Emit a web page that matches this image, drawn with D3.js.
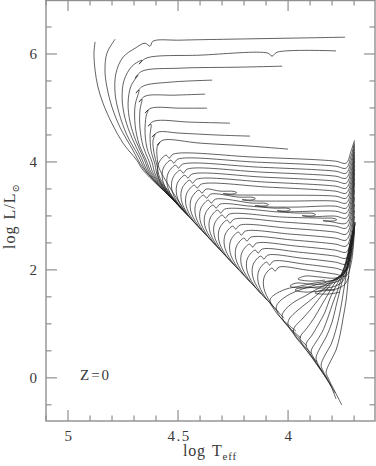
<!DOCTYPE html>
<html><head><meta charset="utf-8">
<script src="https://cdn.jsdelivr.net/npm/d3@7"></script>
<style>html,body{margin:0;padding:0;background:#fff;}svg{display:block;}</style>
</head><body>
<script>
// ---- data: evolutionary tracks, each point = [log Teff, log L/Lsun] ----
const xMajorTicks = [5, 4.5, 4];
const xMajorLabels = ["5", "4.5", "4"];
const yMajorTicks = [0, 2, 4, 6];
const yMajorLabels = ["0", "2", "4", "6"];
const xDomain = [5.1, 3.605];
const yDomain = [-0.8, 7.0];
const panelLabel = "Z=0";

const massiveTracks = [
 [[4.539,3.366],[4.659,3.848],[4.688,4.033],[4.750,4.348],[4.801,4.718],[4.841,5.089],[4.864,5.390],[4.877,5.700],[4.882,6.015],[4.877,6.224]],
 [[4.530,3.329],[4.659,3.885],[4.705,4.218],[4.764,4.644],[4.800,5.015],[4.823,5.385],[4.832,5.700],[4.823,6.015],[4.786,6.274]],
 [[4.521,3.292],[4.645,3.830],[4.682,4.126],[4.732,4.496],[4.768,4.904],[4.786,5.274],[4.782,5.644],[4.750,5.940],[4.695,6.107],[4.650,6.200],[4.627,6.144],[4.614,6.237],[4.491,6.256],[4.264,6.274],[3.991,6.293],[3.741,6.311]],
 [[4.513,3.255],[4.636,3.811],[4.668,4.089],[4.709,4.441],[4.741,4.811],[4.754,5.181],[4.745,5.515],[4.709,5.774],[4.664,5.885],[4.677,5.811],[4.645,5.922],[4.400,5.978],[4.091,6.015],[4.073,5.959],[4.050,6.033],[3.782,6.057]],
 [[4.504,3.218],[4.627,3.792],[4.654,4.052],[4.691,4.385],[4.718,4.737],[4.727,5.089],[4.714,5.404],[4.682,5.607],[4.695,5.552],[4.664,5.681],[4.491,5.737],[4.218,5.756],[4.027,5.774]],
 [[4.496,3.181],[4.618,3.774],[4.645,4.033],[4.677,4.330],[4.695,4.681],[4.695,5.052],[4.677,5.330],[4.691,5.274],[4.659,5.404],[4.536,5.478],[4.345,5.515]],
 [[4.487,3.144],[4.609,3.755],[4.632,4.015],[4.659,4.293],[4.673,4.626],[4.673,4.959],[4.664,5.163],[4.677,5.107],[4.650,5.218],[4.514,5.237],[4.377,5.256]],
 [[4.479,3.107],[4.600,3.737],[4.618,3.996],[4.641,4.256],[4.650,4.552],[4.645,4.848],[4.636,4.959],[4.650,4.904],[4.623,4.996],[4.491,4.996],[4.368,4.996]],
 [[4.470,3.070],[4.591,3.718],[4.605,3.959],[4.623,4.218],[4.627,4.496],[4.623,4.700],[4.636,4.663],[4.609,4.756],[4.445,4.737],[4.264,4.718]],
 [[4.462,3.033],[4.582,3.700],[4.595,3.922],[4.609,4.163],[4.614,4.385],[4.605,4.515],[4.618,4.459],[4.591,4.552],[4.491,4.533],[4.309,4.496],[4.173,4.478]],
 [[4.453,2.996],[4.586,3.885],[4.595,4.089],[4.595,4.274],[4.582,4.367],[4.595,4.311],[4.568,4.404],[4.400,4.348],[4.173,4.293],[4.000,4.237]]
];

const intermediateTracks = [
 [[4.500,3.200],[4.559,3.478],[4.592,3.755],[4.588,3.978],[4.554,4.126],[4.540,4.070],[4.522,4.144],[4.154,4.089],[3.786,4.015],[3.736,3.978],[3.714,4.200],[3.698,4.403]],
 [[4.479,3.107],[4.538,3.385],[4.570,3.663],[4.567,3.885],[4.533,4.033],[4.519,3.978],[4.501,4.052],[4.144,3.996],[3.786,3.922],[3.736,3.885],[3.714,4.107],[3.698,4.366]],
 [[4.457,3.015],[4.517,3.292],[4.549,3.570],[4.545,3.792],[4.511,3.940],[4.498,3.885],[4.479,3.959],[4.133,3.903],[3.786,3.829],[3.736,3.792],[3.714,4.015],[3.698,4.329]],
 [[4.436,2.922],[4.495,3.200],[4.528,3.478],[4.524,3.700],[4.490,3.848],[4.476,3.792],[4.458,3.867],[4.122,3.811],[3.786,3.737],[3.736,3.700],[3.714,3.922],[3.698,4.292]],
 [[4.414,2.829],[4.474,3.107],[4.506,3.385],[4.503,3.607],[4.469,3.755],[4.455,3.700],[4.437,3.774],[4.111,3.718],[3.786,3.644],[3.736,3.607],[3.714,3.829],[3.698,4.237]],
 [[4.393,2.737],[4.453,3.015],[4.485,3.292],[4.481,3.515],[4.447,3.663],[4.434,3.607],[4.415,3.681],[4.101,3.626],[3.786,3.552],[3.736,3.515],[3.714,3.737],[3.698,4.181]],
 [[4.372,2.644],[4.432,2.922],[4.464,3.200],[4.460,3.422],[4.426,3.570],[4.413,3.515],[4.394,3.589],[4.090,3.533],[3.786,3.459],[3.736,3.422],[3.714,3.644],[3.698,4.126]],
 [[4.351,2.552],[4.410,2.829],[4.443,3.107],[4.439,3.329],[4.405,3.478],[4.391,3.422],[4.373,3.496],[4.309,3.459],[4.245,3.453],[4.234,3.429],[4.250,3.407],[4.295,3.411],[4.259,3.392],[4.079,3.385],[3.786,3.366],[3.736,3.329],[3.714,3.552],[3.698,4.070]],
 [[4.329,2.459],[4.389,2.737],[4.421,3.015],[4.418,3.237],[4.384,3.385],[4.370,3.329],[4.352,3.403],[4.223,3.348],[4.159,3.342],[4.148,3.318],[4.164,3.296],[4.209,3.300],[4.173,3.281],[4.014,3.274],[3.786,3.274],[3.736,3.237],[3.714,3.459],[3.698,4.015]],
 [[4.308,2.366],[4.368,2.644],[4.400,2.922],[4.396,3.144],[4.362,3.292],[4.349,3.237],[4.330,3.311],[4.163,3.237],[4.100,3.231],[4.089,3.207],[4.104,3.185],[4.150,3.189],[4.113,3.170],[3.968,3.163],[3.786,3.181],[3.736,3.144],[3.714,3.366],[3.698,3.940]],
 [[4.287,2.274],[4.346,2.552],[4.379,2.829],[4.375,3.052],[4.341,3.200],[4.327,3.144],[4.309,3.218],[4.173,3.181],[4.064,3.144],[4.000,3.139],[3.989,3.115],[4.005,3.092],[4.050,3.096],[4.014,3.078],[3.786,3.089],[3.736,3.052],[3.714,3.274],[3.698,3.866]],
 [[4.265,2.181],[4.325,2.459],[4.357,2.737],[4.354,2.959],[4.320,3.107],[4.306,3.052],[4.288,3.126],[4.037,3.070],[3.950,3.052],[3.886,3.046],[3.875,3.022],[3.891,3.000],[3.936,3.004],[3.900,2.985],[3.786,2.996],[3.736,2.959],[3.714,3.181],[3.698,3.792]],
 [[4.244,2.089],[4.304,2.366],[4.336,2.644],[4.333,2.866],[4.299,3.015],[4.285,2.959],[4.267,3.033],[4.026,2.978],[3.855,2.959],[3.791,2.953],[3.779,2.929],[3.795,2.907],[3.841,2.911],[3.804,2.892],[3.736,2.866],[3.714,3.089],[3.698,3.700]],
 [[4.223,1.996],[4.283,2.274],[4.315,2.552],[4.311,2.774],[4.277,2.922],[4.264,2.866],[4.245,2.940],[4.016,2.885],[3.786,2.811],[3.736,2.774],[3.714,2.996],[3.698,3.607]],
 [[4.197,1.885],[4.257,2.163],[4.289,2.441],[4.285,2.663],[4.251,2.811],[4.238,2.755],[4.219,2.829],[4.003,2.774],[3.786,2.700],[3.736,2.663],[3.714,2.885],[3.698,3.478]],
 [[4.172,1.774],[4.231,2.052],[4.264,2.329],[4.260,2.552],[4.226,2.700],[4.212,2.644],[4.194,2.718],[3.990,2.663],[3.786,2.589],[3.736,2.552],[3.714,2.774],[3.698,3.348]],
 [[4.146,1.663],[4.206,1.941],[4.238,2.218],[4.234,2.441],[4.200,2.589],[4.187,2.533],[4.169,2.607],[3.977,2.552],[3.786,2.478],[3.736,2.441],[3.714,2.663],[3.698,3.218]],
 [[4.121,1.552],[4.180,1.830],[4.213,2.107],[4.209,2.329],[4.175,2.478],[4.161,2.422],[4.143,2.496],[3.964,2.441],[3.786,2.366],[3.736,2.329],[3.714,2.552],[3.698,3.107]],
 [[4.095,1.441],[4.155,1.718],[4.187,1.996],[4.184,2.218],[4.149,2.366],[4.136,2.311],[4.118,2.385],[3.952,2.329],[3.786,2.255],[3.736,2.218],[3.714,2.441],[3.698,2.996]],
 [[4.069,1.330],[4.129,1.607],[4.161,1.885],[4.158,2.107],[4.124,2.255],[4.110,2.200],[4.092,2.274],[3.939,2.218],[3.786,2.144],[3.736,2.107],[3.714,2.329],[3.698,2.885]],
 [[4.044,1.218],[4.104,1.496],[4.136,1.774],[4.132,1.996],[4.098,2.144],[4.084,2.089],[4.066,2.163],[3.926,2.107],[3.786,2.033],[3.736,1.996],[3.714,2.218],[3.698,2.811]],
 [[4.018,1.107],[4.078,1.385],[4.110,1.663],[4.107,1.885],[4.073,2.033],[4.059,1.978],[4.041,2.052],[3.914,1.996],[3.786,1.922],[3.736,1.885],[3.714,2.107],[3.698,2.737]]
];

const lowMassTracks = [
 [[3.756,-0.504],[3.786,-0.263],[3.818,-0.004],[3.827,0.107],[3.809,0.292],[3.782,0.515],[3.764,0.792],[3.750,1.107],[3.736,1.441],[3.727,1.811],[3.718,2.144],[3.709,2.459],[3.700,2.774],[3.695,2.880]],
 [[3.782,-0.393],[3.809,-0.115],[3.841,0.126],[3.850,0.237],[3.832,0.422],[3.804,0.626],[3.782,0.903],[3.764,1.218],[3.750,1.552],[3.736,1.904],[3.723,2.274],[3.709,2.607],[3.695,2.885]],
 [[3.786,-0.281],[3.827,-0.004],[3.864,0.255],[3.873,0.367],[3.855,0.552],[3.827,0.755],[3.800,1.033],[3.782,1.330],[3.764,1.626],[3.745,1.941],[3.727,2.274],[3.714,2.552],[3.702,2.718],[3.695,2.848]],
 [[3.804,-0.152],[3.850,0.144],[3.886,0.385],[3.895,0.496],[3.873,0.663],[3.845,0.848],[3.818,1.126],[3.795,1.404],[3.773,1.644],[3.755,1.885],[3.736,2.144],[3.723,2.366],[3.711,2.607],[3.698,2.830]],
 [[3.823,-0.022],[3.877,0.292],[3.909,0.515],[3.918,0.626],[3.891,0.792],[3.864,0.977],[3.832,1.218],[3.809,1.478],[3.782,1.700],[3.759,1.885],[3.741,2.107],[3.727,2.329],[3.714,2.589],[3.700,2.792]],
 [[3.845,0.126],[3.904,0.441],[3.941,0.663],[3.945,0.755],[3.914,0.922],[3.882,1.107],[3.850,1.330],[3.818,1.552],[3.791,1.737],[3.764,1.885],[3.741,2.070],[3.727,2.255],[3.714,2.533],[3.700,2.755]],
 [[3.868,0.292],[3.932,0.589],[3.973,0.811],[3.973,0.922],[3.936,1.089],[3.900,1.255],[3.864,1.441],[3.827,1.626],[3.795,1.774],[3.764,1.885],[3.736,2.033],[3.723,2.292],[3.709,2.552],[3.698,2.737]],
 [[3.891,0.441],[3.959,0.737],[4.000,0.977],[3.995,1.089],[3.955,1.255],[3.909,1.404],[3.864,1.552],[3.823,1.700],[3.791,1.811],[3.759,1.904],[3.732,2.033],[3.720,2.300],[3.709,2.540],[3.700,2.700]],
 [[3.914,0.589],[3.986,0.885],[4.027,1.126],[4.018,1.237],[3.973,1.404],[3.923,1.515],[3.877,1.626],[3.832,1.719],[3.795,1.811],[3.759,1.904],[3.727,2.089],[3.718,2.329],[3.707,2.552],[3.700,2.681]],
 [[3.941,0.737],[4.018,1.033],[4.054,1.292],[4.041,1.404],[3.991,1.552],[3.936,1.644],[3.877,1.719],[3.823,1.774],[3.782,1.830],[3.745,1.941],[3.723,2.144],[3.714,2.366],[3.705,2.589]],
 [[3.964,0.866],[4.045,1.163],[4.082,1.441],[4.064,1.533],[4.009,1.644],[3.945,1.700],[3.882,1.755],[3.818,1.792],[3.773,1.830],[3.741,1.959],[3.727,2.181],[3.714,2.404],[3.705,2.552]]
];

const heliumBurningTracks = [
 [[3.809,1.719],[3.877,1.681],[3.945,1.663],[3.991,1.700],[3.964,1.755],[3.900,1.737],[3.832,1.737],[3.773,1.792],[3.741,1.904],[3.723,2.144],[3.709,2.404]],
 [[3.786,1.626],[3.855,1.607],[3.923,1.589],[3.968,1.626],[3.936,1.681],[3.864,1.663],[3.800,1.681],[3.755,1.774],[3.732,1.959]],
 [[3.832,1.811],[3.900,1.792],[3.955,1.830],[3.923,1.885],[3.855,1.867],[3.786,1.848],[3.745,1.922],[3.727,2.107]],
 [[3.764,1.589],[3.818,1.552],[3.877,1.570],[3.845,1.626],[3.782,1.644],[3.741,1.737],[3.723,1.885]]
];

// ---- drawing ----
const W = 376, H = 466;
const svg = d3.select("body").append("svg").attr("width", W).attr("height", H);
const x = d3.scaleLinear().domain(xDomain).range([46, 375]);
const y = d3.scaleLinear().domain(yDomain).range([421, 0]);

const line = d3.line().x(d => x(d[0])).y(d => y(d[1])).curve(d3.curveCatmullRom.alpha(0.5));
const allTracks = massiveTracks.concat(intermediateTracks, lowMassTracks, heliumBurningTracks);
svg.append("g").selectAll("path").data(allTracks).join("path")
  .attr("d", line).attr("fill", "none").attr("stroke", "#1e1e1e")
  .attr("stroke-width", 0.7).attr("stroke-linejoin", "round");

// frame
const axisColor = "#8f8f8f";
const [x0, x1] = x.range(), [y0, y1] = y.range();
svg.append("rect").attr("x", x0).attr("y", y1 + 0.5).attr("width", x1 - x0).attr("height", y0 - y1 - 0.5)
  .attr("fill", "none").attr("stroke", axisColor).attr("stroke-width", 1.4);

const xMinor = d3.range(51, 36, -1).map(v => v / 10).filter(v => v <= 5.1 && v >= 3.61);
const yMinor = d3.range(-1, 14).map(v => v / 2).filter(v => v >= -0.8 && v <= 7);
const tickG = svg.append("g").attr("stroke", axisColor).attr("stroke-width", 1.2);
xMinor.forEach(v => {
  const major = xMajorTicks.some(m => Math.abs(m - v) < 1e-6);
  const len = major ? 11 : 5.5;
  tickG.append("line").attr("x1", x(v)).attr("x2", x(v)).attr("y1", y0).attr("y2", y0 - len);
  tickG.append("line").attr("x1", x(v)).attr("x2", x(v)).attr("y1", y1).attr("y2", y1 + len);
});
yMinor.forEach(v => {
  const major = yMajorTicks.some(m => Math.abs(m - v) < 1e-6);
  const len = major ? 11 : 5.5;
  tickG.append("line").attr("x1", x0).attr("x2", x0 + len).attr("y1", y(v)).attr("y2", y(v));
  tickG.append("line").attr("x1", x1).attr("x2", x1 - len).attr("y1", y(v)).attr("y2", y(v));
});

const font = "'Liberation Serif', 'DejaVu Serif', serif";
const txtColor = "#3a3a3a";
svg.append("g").selectAll("text").data(xMajorTicks).join("text")
  .attr("x", d => x(d) + 1).attr("y", 441).attr("text-anchor", "middle")
  .attr("font-family", font).attr("font-size", 15).attr("letter-spacing", 1.5).attr("fill", txtColor)
  .text((d, i) => xMajorLabels[i]);
svg.append("g").selectAll("text").data(yMajorTicks).join("text")
  .attr("x", 37).attr("y", d => y(d) + 5).attr("text-anchor", "end")
  .attr("font-family", font).attr("font-size", 15).attr("fill", txtColor)
  .text((d, i) => yMajorLabels[i]);

// axis titles
const xt = svg.append("text").attr("x", 210).attr("y", 456).attr("text-anchor", "middle")
  .attr("font-family", font).attr("font-size", 16).attr("letter-spacing", 0.8).attr("fill", txtColor);
xt.append("tspan").text("log");
xt.append("tspan").attr("dx", 6).text("T");
xt.append("tspan").attr("font-size", 11).attr("dy", 4).text("eff");

const yt = svg.append("text").attr("transform", "translate(15,216) rotate(-90)").attr("text-anchor", "middle")
  .attr("font-family", font).attr("font-size", 16).attr("letter-spacing", 1).attr("fill", txtColor);
yt.append("tspan").text("log");
yt.append("tspan").attr("dx", 6).text("L/L");
yt.append("tspan").attr("font-size", 10).attr("dy", 4).text("\u2299");

svg.append("text").attr("x", 80).attr("y", 380).attr("font-family", font).attr("font-size", 15)
  .attr("letter-spacing", 2).attr("fill", txtColor).text(panelLabel);
</script>
</body></html>
